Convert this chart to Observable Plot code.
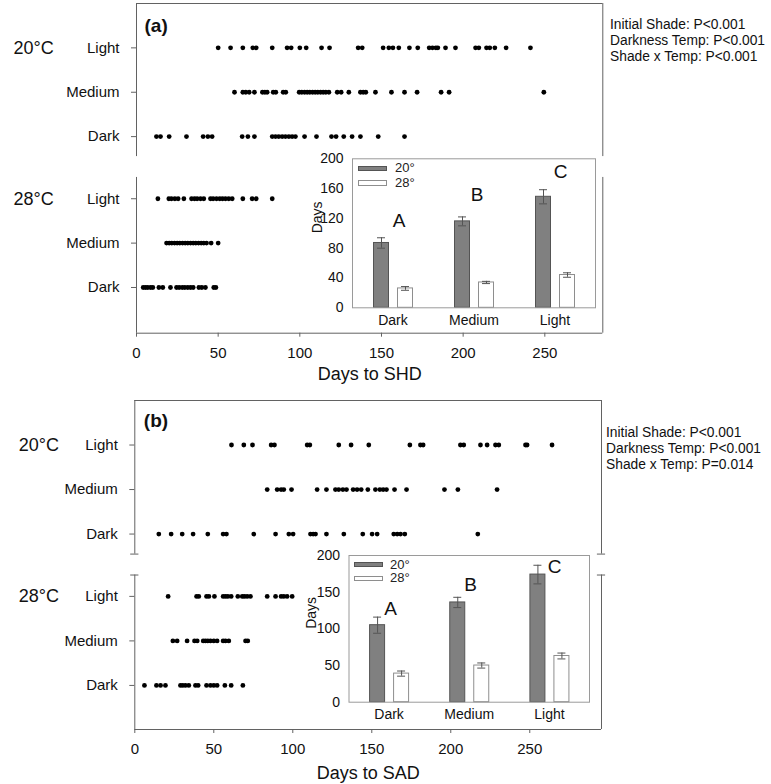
<!DOCTYPE html>
<html><head><meta charset="utf-8">
<script src="https://cdn.jsdelivr.net/npm/d3@7"></script>
<script src="https://cdn.jsdelivr.net/npm/@observablehq/plot@0.6"></script>
<style>
body{margin:0;background:#fff;font-family:"Liberation Sans",Arial,sans-serif;}
#wrap{position:relative;width:771px;height:784px;overflow:hidden;background:#fff;}
.abs{position:absolute;}
.note{position:absolute;font-size:13.8px;line-height:16.2px;color:#111;white-space:nowrap;}
.leg{position:absolute;font-size:13px;line-height:12px;color:#222;white-space:nowrap;}
.sw{position:absolute;width:28.5px;height:5.5px;box-sizing:border-box;border:1px solid;}
</style></head><body><div id="wrap"></div>
<script>
// ---------- data ----------
const shadeRows = ["Light","Medium","Dark"];
const tempRows = ["20°C","28°C"];
const xTicks = [0,50,100,150,200,250];

// Panel (a): days to SHD
const shd20Light = [50.0,57.6,65.1,71.2,73.3,83.1,92.2,94.7,100.0,103.9,113.3,118.2,135.7,138.2,151.0,154.5,157.0,160.6,167.1,172.2,179.2,181.2,183.3,184.5,189.2,195.3,207.6,209.6,214.3,216.3,219.4,226.3,241.2];
const shd20Medium = [60.0,65.1,66.9,69.0,72.2,77.1,78.6,80.0,83.7,85.3,89.8,91.4,99.6,101.2,102.9,104.5,106.1,107.8,109.4,111.0,112.7,114.3,115.9,117.8,122.9,125.3,130.0,137.1,138.8,140.4,146.3,156.1,164.1,171.8,186.5,191.4,249.4];
const shd20Dark = [12.2,14.7,20.0,30.6,40.8,43.7,46.3,64.7,68.2,72.2,83.1,85.1,87.1,89.2,91.2,93.3,95.3,97.3,102.9,110.2,119.4,122.2,126.9,132.0,137.1,148.0,164.1];
const shd28Light = [13.1,19.8,21.4,23.5,25.5,29.0,33.7,35.5,37.1,39.2,41.2,45.3,46.9,49.0,51.0,52.7,54.5,56.5,58.6,65.1,70.8,73.3,83.1];
const shd28Medium = [18.4,20.0,21.6,23.3,24.9,26.5,28.2,29.8,31.4,33.1,34.7,36.3,38.0,39.6,41.2,42.9,45.7,50.0];
const shd28Dark = [4.1,5.5,6.9,8.6,10.0,13.7,16.1,20.8,24.5,26.1,28.0,29.6,31.4,33.1,34.7,38.2,40.0,42.2,47.3,48.6];

// Panel (b): days to SAD
const sad20Light = [61.2,69.0,74.5,86.3,88.4,109.1,110.8,129.1,136.9,148.1,174.1,180.8,182.5,206.1,208.2,218.8,223.0,228.3,230.4,247.3,248.3,264.1];
const sad20Medium = [83.8,90.1,92.6,94.3,99.2,115.4,121.3,127.0,129.1,131.7,134.0,138.2,140.7,143.3,147.5,152.3,155.1,157.2,159.3,164.4,172.0,196.0,204.5,229.3];
const sad20Dark = [15.2,23.0,30.0,36.9,46.2,55.9,58.0,75.3,89.1,97.5,100.2,111.2,112.9,114.4,121.3,132.3,144.3,150.2,153.4,163.9,166.1,168.2,170.9,217.1];
const sad28Light = [21.1,39.1,40.5,45.4,46.9,50.4,55.9,57.4,58.9,61.0,65.2,68.0,69.4,71.1,73.2,83.8,89.1,92.6,94.3,96.4,99.6];
const sad28Medium = [24.1,26.8,33.1,37.8,39.5,43.3,44.7,46.2,47.9,50.0,52.1,55.9,57.4,59.5,70.1,71.5];
const sad28Dark = [6.1,13.7,16.3,19.4,28.9,30.4,32.1,34.2,38.4,40.1,45.4,47.9,50.0,52.1,57.0,61.0,68.4];

// Insets: means ± SE
const barShades = ["Dark","Medium","Light"];
const barTemps = ["20°","28°"];
const shdMean20 = [87, 116, 149];
const shdErr20 = [7, 6, 9.5];
const shdMean28 = [26, 34, 44];
const shdErr28 = [2.5, 1.5, 3];
const sadMean20 = [105, 136, 174];
const sadErr20 = [11, 7, 12.7];
const sadMean28 = [39, 50, 63];
const sadErr28 = [3.5, 3.5, 4];
const groupLetters = ["A","B","C"];
const shdLetterDays = [117, 152, 182];
const sadLetterDays = [127, 160, 184];
const shdTicks = [0,40,80,120,160,200];
const sadTicks = [0,50,100,150,200];

const statsA = ["Initial Shade: P<0.001","Darkness Temp: P<0.001","Shade x Temp: P<0.001"];
const statsB = ["Initial Shade: P<0.001","Darkness Temp: P<0.001","Shade x Temp: P=0.014"];

// ---------- drawing ----------
const wrap = document.getElementById("wrap");
const FONT = '"Liberation Sans", Arial, sans-serif';
const FRAME = "#626262";
const GAP = 0.4;
const Y_TOP = -1;
const BREAK = [2.45, 2.92];
const rowPos = (t, s) => t * 3 + s + (t ? GAP : 0);

function place(el, left, top) {
  const d = document.createElement("div");
  d.className = "abs"; d.style.left = left + "px"; d.style.top = top + "px";
  d.appendChild(el); wrap.appendChild(d);
}

function dotPanel(o) {
  const data = [];
  o.series.forEach((arr, k) => {
    const t = Math.floor(k / 3), s = k % 3;
    arr.forEach(v => data.push({days: v, row: rowPos(t, s)}));
  });
  const tickPos = [], tickLab = new Map();
  tempRows.forEach((_, t) => shadeRows.forEach((s, si) => {
    const p = rowPos(t, si); tickPos.push(p); tickLab.set(p, s);
  }));
  const tempData = tempRows.map((label, t) => ({label, row: rowPos(t, 0)}));
  const sides = [0, o.xMax].flatMap(x => [
    {x, y1: Y_TOP, y2: BREAK[0]}, {x, y1: BREAK[1], y2: o.yMax}
  ]);
  const marks = [
    Plot.ruleY([Y_TOP, o.yMax], {stroke: FRAME}),
    Plot.ruleX(sides, {x: "x", y1: "y1", y2: "y2", stroke: FRAME}),
    Plot.axisY({ticks: tickPos, tickFormat: d => tickLab.get(d), tickSize: 5, tickPadding: 12, fontSize: 15, label: null, stroke: FRAME}),
    Plot.axisX({ticks: xTicks, tickSize: 4, tickPadding: 10, fontSize: 15, label: null, stroke: FRAME}),
    Plot.text(tempData, {y: "row", text: "label", frameAnchor: "left", textAnchor: "start", lineAnchor: "middle", dx: o.tempDx, fontSize: 18}),
    Plot.text([o.letter], {frameAnchor: "top-left", text: d => d, textAnchor: "start", lineAnchor: "middle", dx: o.letterDx, dy: o.letterDy, fontSize: 19, fontWeight: "bold"}),
    Plot.text([o.xLabel], {frameAnchor: "bottom", text: d => d, lineAnchor: "middle", dy: o.xLabelDy, fontSize: 18}),
    Plot.dot(data, {x: "days", y: "row", r: 2.4, fill: "#000"})
  ];
  if (o.caps) {
    const capData = [0, o.xMax].flatMap(x => BREAK.map(y => ({x, y})));
    marks.push(Plot.ruleY(capData, {y: "y", x1: d => d.x - 2.6, x2: d => d.x + 2.6, stroke: FRAME}));
  }
  const svg = Plot.plot({
    width: 771, height: o.height,
    marginTop: o.mT, marginBottom: o.mB, marginLeft: o.mL, marginRight: o.mR,
    x: {domain: [0, o.xMax]},
    y: {domain: [Y_TOP, o.yMax], reverse: true},
    style: {fontFamily: FONT, fontSize: "15px", color: "#111", background: "transparent", overflow: "visible"},
    marks
  });
  place(svg, 0, o.top);
}

function insetPlot(o) {
  const bw = (o.width - o.mL - o.mR) / 3;
  const r20 = barShades.map((c, i) => ({cat: c, mean: o.m20[i], lo: o.m20[i] - o.e20[i], hi: o.m20[i] + o.e20[i]}));
  const r28 = barShades.map((c, i) => ({cat: c, mean: o.m28[i], lo: o.m28[i] - o.e28[i], hi: o.m28[i] + o.e28[i]}));
  const dark = "#545454", light = "#8e8e8e";
  const marks = [
    Plot.barY(r20, {x: "cat", y: "mean", fill: "#808080", stroke: dark, insetLeft: bw/2 - 19, insetRight: bw/2 + 4}),
    Plot.barY(r28, {x: "cat", y: "mean", fill: "#fff", stroke: light, insetLeft: bw/2 + 5, insetRight: bw/2 - 20}),
    Plot.ruleX(r20, {x: "cat", y1: "lo", y2: "hi", dx: -11.5, stroke: dark}),
    Plot.tickY(r20, {x: "cat", y: "lo", insetLeft: bw/2 - 15.5, insetRight: bw/2 + 7.5, stroke: dark}),
    Plot.tickY(r20, {x: "cat", y: "hi", insetLeft: bw/2 - 15.5, insetRight: bw/2 + 7.5, stroke: dark}),
    Plot.ruleX(r28, {x: "cat", y1: "lo", y2: "hi", dx: 12.5, stroke: dark}),
    Plot.tickY(r28, {x: "cat", y: "lo", insetLeft: bw/2 + 8.5, insetRight: bw/2 - 16.5, stroke: dark}),
    Plot.tickY(r28, {x: "cat", y: "hi", insetLeft: bw/2 + 8.5, insetRight: bw/2 - 16.5, stroke: dark}),
    Plot.frame({stroke: "#9a9a9a"}),
    Plot.axisY({ticks: o.ticks, tickSize: 0, tickPadding: 9, fontSize: 14, label: null}),
    Plot.axisX({tickSize: 0, tickPadding: 7, fontSize: 14, label: null}),
    Plot.text(["Days"], {frameAnchor: "left", text: d => d, rotate: -90, dx: o.daysDx, fontSize: 14}),
    ...groupLetters.map((l, i) => Plot.text([{cat: barShades[i], y: o.letY[i], t: l}], {x: "cat", y: "y", text: "t", dx: o.letDx[i], fontSize: 19}))
  ];
  const svg = Plot.plot({
    width: o.width, height: o.height,
    marginTop: o.mT, marginBottom: o.mB, marginLeft: o.mL, marginRight: o.mR,
    x: {domain: barShades, padding: 0, round: false, axis: null},
    y: {domain: [0, o.yMax], axis: null},
    style: {fontFamily: FONT, fontSize: "14px", color: "#111", background: "transparent", overflow: "visible"},
    marks
  });
  place(svg, o.left, o.top);
  // legend
  barTemps.forEach((t, i) => {
    const sw = document.createElement("div");
    sw.className = "sw";
    sw.style.left = o.legLeft + "px"; sw.style.top = (o.legTop + i * o.legStep - 2.75) + "px";
    sw.style.background = i === 0 ? "#808080" : "#fff";
    sw.style.borderColor = i === 0 ? dark : light;
    wrap.appendChild(sw);
    const tx = document.createElement("div");
    tx.className = "leg"; tx.textContent = t;
    tx.style.left = (o.legLeft + o.legTextDx) + "px"; tx.style.top = (o.legTop + i * o.legStep - 6) + "px";
    wrap.appendChild(tx);
  });
}

function stats(lines, left, top) {
  const d = document.createElement("div");
  d.className = "note"; d.style.left = left + "px"; d.style.top = top + "px";
  d.innerHTML = lines.join("<br>");
  wrap.appendChild(d);
}

dotPanel({
  series: [shd20Light, shd20Medium, shd20Dark, shd28Light, shd28Medium, shd28Dark],
  top: 0, height: 385, mT: 3, mB: 52.3, mL: 136, mR: 168.7, xMax: 285.5, yMax: 6.43,
  tempDx: -123, letter: "(a)", letterDx: 8, letterDy: 22, xLabel: "Days to SHD", xLabelDy: 40.6, caps: false
});
dotPanel({
  series: [sad20Light, sad20Medium, sad20Dark, sad28Light, sad28Medium, sad28Dark],
  top: 395, height: 389, mT: 5, mB: 55, mL: 134.3, mR: 170, xMax: 295.4, yMax: 6.39,
  tempDx: -116, letter: "(b)", letterDx: 9, letterDy: 20.7, xLabel: "Days to SAD", xLabelDy: 43.3, caps: true
});
insetPlot({
  left: 290, top: 150, width: 310, height: 180, mL: 62, mR: 5, mT: 8.3, mB: 22.7,
  m20: shdMean20, e20: shdErr20, m28: shdMean28, e28: shdErr28, yMax: 200, ticks: shdTicks,
  letY: shdLetterDays, letDx: [6, 3, 5.5], daysDx: -35.3,
  legLeft: 358.3, legTop: 168.3, legStep: 14.5, legTextDx: 36.7
});
insetPlot({
  left: 290, top: 545, width: 305, height: 180, mL: 58.5, mR: 6, mT: 10, mB: 23.3,
  m20: sadMean20, e20: sadErr20, m28: sadMean28, e28: sadErr28, yMax: 200, ticks: sadTicks,
  letY: sadLetterDays, letDx: [1.5, 1.3, 5.3], daysDx: -37.5,
  legLeft: 354, legTop: 564.5, legStep: 13.8, legTextDx: 36
});
stats(statsA, 610, 17);
stats(statsB, 606, 424.6);
</script></body></html>
